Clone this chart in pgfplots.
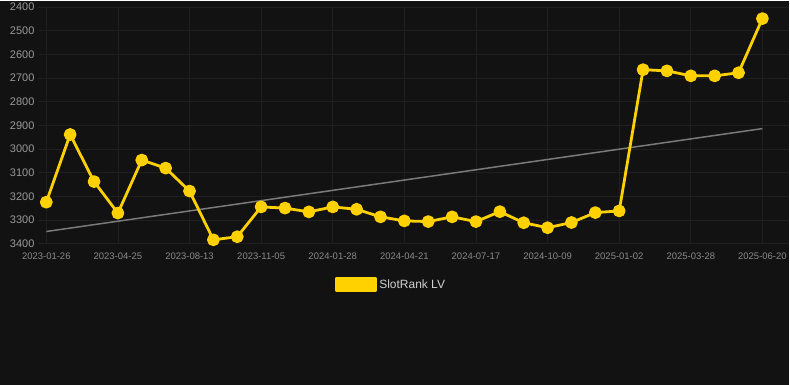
\documentclass[border=0pt]{standalone}
\usepackage{pgfplots}
\pgfplotsset{compat=1.18}
\usepackage{fontspec}
\setmainfont{Liberation Sans}
\definecolor{bg}{HTML}{121212}
\definecolor{gridc}{HTML}{1F1F1F}
\definecolor{ylw}{HTML}{FFD100}
\definecolor{trend}{HTML}{7A7A7A}
\definecolor{ticky}{HTML}{9A9A9A}
\definecolor{tickx}{HTML}{8A8A8A}
\definecolor{legt}{HTML}{D0D0D0}
\begin{document}
\begin{tikzpicture}[x=1pt,y=1pt]
\fill[bg] (0,0) rectangle (790,384);
\begin{axis}[
  at={(38pt,141pt)}, anchor=south west,
  scale only axis, width=752pt, height=237pt,
  xmin=-0.35, xmax=31.1,
  ymin=2400, ymax=3400, y dir=reverse,
  ytick={2400,2500,...,3400},
  xtick={0,3,...,30},
  xticklabels={2023-01-26,2023-04-25,2023-08-13,2023-11-05,2024-01-28,2024-04-21,2024-07-17,2024-10-09,2025-01-02,2025-03-28,2025-06-20},
  /pgf/number format/assume math mode=true,
  /pgf/number format/1000 sep={},
  axis line style={draw=none},
  major tick length=0pt,
  grid=major, major grid style={gridc, line width=0.8pt},
  yticklabel style={font=\fontsize{11}{13}\selectfont, text=ticky, anchor=east, xshift=0pt},
  xticklabel style={font=\fontsize{9.5}{11}\selectfont, text=tickx, yshift=-6pt},
  legend style={at={(0.470,-0.173)}, anchor=center, draw=none, fill=none,
    text=legt, font=\fontsize{12}{14}\selectfont, legend cell align=left,
    /tikz/every even column/.append style={column sep=4pt}},
  legend image code/.code={\fill[ylw] (0pt,-6pt) rectangle (40pt,6pt);},
]
\addplot[trend, line width=1.5pt, forget plot] coordinates {(0,3348) (30,2913)};
\addplot[ylw, line width=2.8pt, line join=round, mark=*, mark size=5pt, mark options={solid, fill=ylw, draw=none}]
coordinates {
(0,3224) (1,2938) (2,3137) (3,3270) (4,3046) (5,3080) (6,3177) (7,3383) (8,3370)
(9,3244) (10,3249) (11,3265) (12,3244) (13,3254) (14,3286) (15,3303) (16,3306)
(17,3286) (18,3306) (19,3264) (20,3311) (21,3332) (22,3310) (23,3268) (24,3261)
(25,2664) (26,2669) (27,2690) (28,2690) (29,2677) (30,2448)
};
\addlegendentry{SlotRank LV}
\end{axis}
\end{tikzpicture}
\end{document}
